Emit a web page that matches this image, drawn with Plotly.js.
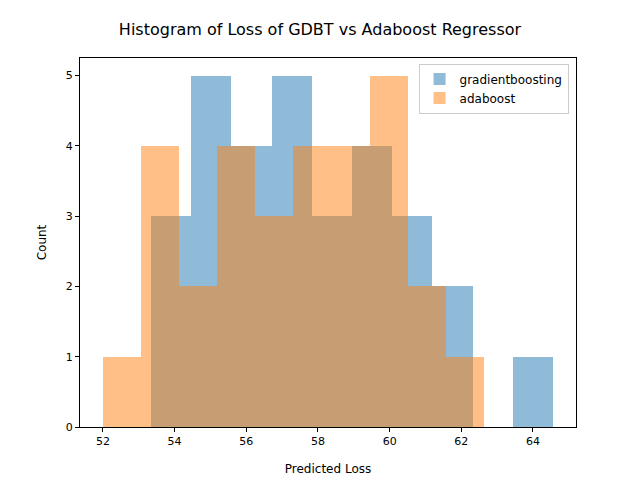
<!DOCTYPE html>
<html><head><script src="https://cdn.plot.ly/plotly-3.0.1.min.js"></script></head>
<body style="margin:0">
<div id="c" style="width:640px;height:480px"></div>
<script>
const gbStart = 53.34, gbWidth = 1.122;
const gbCounts = [3,5,4,5,3,4,3,2,0,1];
const abStart = 52.0, abWidth = 1.063;
const abCounts = [1,4,2,4,3,4,4,5,2,1];
const centers = (s,w,n)=>Array.from({length:n},(_, i)=>s+w*(i+0.5));
const data = [
 {type:'bar', name:'gradientboosting', x:centers(gbStart,gbWidth,gbCounts.length), y:gbCounts, width:gbWidth,
  marker:{color:'rgba(31,119,180,0.5)', line:{width:0}}},
 {type:'bar', name:'adaboost', x:centers(abStart,abWidth,abCounts.length), y:abCounts, width:abWidth,
  marker:{color:'rgba(255,127,14,0.5)', line:{width:0}}}
];
const ax = {showgrid:false, zeroline:false, showline:true, mirror:true, linecolor:'black', ticks:'outside', ticklen:4, tickcolor:'black', tickfont:{size:11}};
const layout = {
 width:640, height:480, barmode:'overlay', bargap:0,
 margin:{l:80, r:64, t:58, b:53},
 font:{family:'DejaVu Sans', color:'black'},
 title:{text:'Histogram of Loss of GDBT vs Adaboost Regressor', font:{size:16}, x:0.5, y:0.95},
 xaxis:Object.assign({}, ax, {range:[51.36,65.2], dtick:2, title:{text:'Predicted Loss', font:{size:12}}}),
 yaxis:Object.assign({}, ax, {range:[0,5.25], dtick:1, title:{text:'Count', font:{size:12}}}),
 legend:{x:0.985, y:0.985, xanchor:'right', yanchor:'top', bgcolor:'rgba(255,255,255,0.8)', bordercolor:'#ccc', borderwidth:1, font:{size:12}},
 plot_bgcolor:'white', paper_bgcolor:'white'
};
Plotly.newPlot('c', data, layout, {displayModeBar:false});
</script></body></html>
